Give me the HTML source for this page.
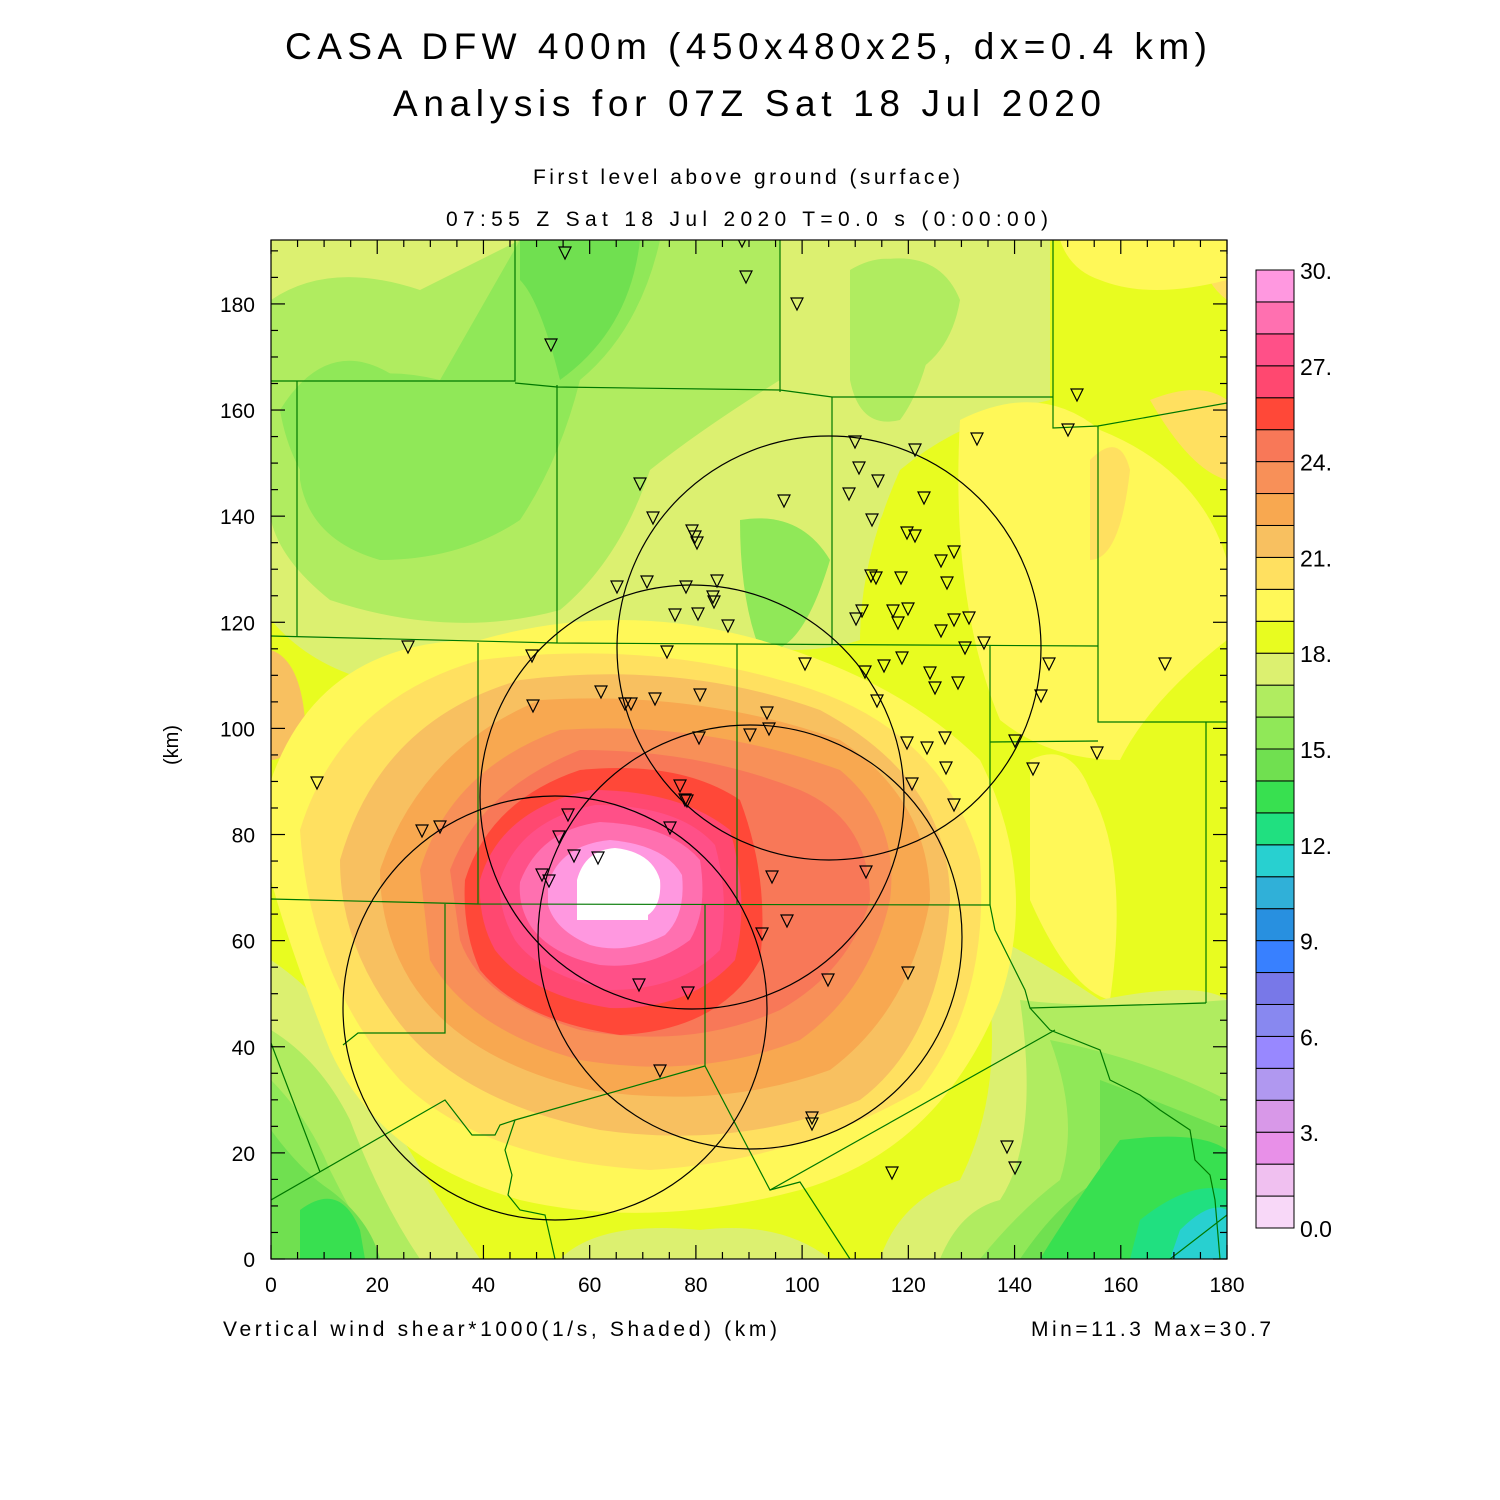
<!DOCTYPE html>
<html><head><meta charset="utf-8"><style>
html,body{margin:0;padding:0;background:#fff;}
svg{display:block;font-family:"Liberation Sans",sans-serif;}
</style></head><body>
<svg id="s" width="1500" height="1500" viewBox="0 0 1500 1500" xmlns="http://www.w3.org/2000/svg">
<defs><clipPath id="c"><rect x="271" y="240" width="956" height="1019"/></clipPath></defs>
<text x="285" y="59" font-size="37" textLength="922" lengthAdjust="spacing" fill="#000">CASA DFW 400m (450x480x25, dx=0.4 km)</text>
<text x="393" y="116" font-size="37" textLength="708" lengthAdjust="spacing" fill="#000">Analysis for 07Z Sat 18 Jul 2020</text>
<text x="533" y="184" font-size="21" textLength="427" lengthAdjust="spacing">First level above ground (surface)</text>
<text x="446" y="226" font-size="21" textLength="602" lengthAdjust="spacing">07:55 Z Sat 18 Jul 2020    T=0.0 s (0:00:00)</text>
<text x="223" y="1336" font-size="21" textLength="554" lengthAdjust="spacing">Vertical wind shear*1000(1/s, Shaded)  (km)</text>
<text x="1031" y="1336" font-size="21" textLength="240" lengthAdjust="spacing">Min=11.3 Max=30.7</text>
<text transform="translate(178,745) rotate(-90)" font-size="20" text-anchor="middle">(km)</text>
<g clip-path="url(#c)">
<rect x="271" y="240" width="956" height="1019" fill="#e8fc20"/>
<!-- upper greens -->
<path d="M271,240 H1050 V400 Q960,420 900,470 Q860,560 860,640 Q800,660 700,640 Q600,700 450,690 Q330,690 271,620 Z" fill="#dcf070"/>
<path d="M271,300 Q330,260 420,290 L520,240 H780 V380 Q700,430 650,470 Q620,560 560,610 Q450,640 330,600 Q280,560 271,520 Z" fill="#b0ec60"/>
<path d="M300,400 Q360,360 440,380 L520,240 H660 Q640,330 580,380 Q560,460 520,520 Q460,560 380,560 Q310,540 300,480 Z" fill="#90e858"/>
<path d="M520,240 H640 Q630,330 560,380 Q540,300 520,280 Z" fill="#70e050"/>
<path d="M280,410 Q330,330 400,380 Q470,420 440,470 Q400,520 330,510 Q290,470 280,410Z" fill="#90e858"/>
<path d="M850,270 Q900,240 940,290 Q930,380 900,420 Q860,430 850,380 Z" fill="#b0ec60"/>
<path d="M740,520 Q800,510 830,560 Q800,660 760,650 Q740,600 740,520Z" fill="#90e858"/>
<path d="M880,260 Q940,250 960,300 Q950,360 900,380 Q870,330 880,260Z" fill="#b0ec60"/>
<!-- upper right yellows -->
<path d="M1050,240 H1227 V1000 H1100 Q1000,960 990,900 Q940,800 960,700 Q900,620 880,520 Q920,440 1050,400 Z" fill="#e8fc20"/>
<path d="M960,420 Q1040,380 1100,430 Q1200,470 1227,560 V640 Q1150,700 1120,760 Q1050,760 1000,720 Q950,600 960,420Z" fill="#fff858"/>
<path d="M1150,400 Q1200,380 1227,400 V480 Q1190,470 1150,400Z" fill="#ffe060"/>
<path d="M1090,460 Q1120,430 1130,470 Q1120,560 1090,560 Z" fill="#ffe060"/>
<path d="M1200,240 H1227 V300 Q1200,280 1200,240Z" fill="#ffe060"/>
<path d="M1030,760 Q1070,740 1090,790 Q1130,860 1110,1000 Q1070,990 1030,900 Z" fill="#fff858"/>
<path d="M1060,240 H1227 V280 Q1150,300 1100,280 Q1070,270 1060,240Z" fill="#fff858"/>
<!-- left side -->
<path d="M271,650 Q300,660 305,720 Q290,760 271,760Z" fill="#f8c060"/>
<!-- bottom-left greens -->
<path d="M271,960 Q330,1000 360,1060 Q410,1160 480,1259 H271 Z" fill="#dcf070"/>
<path d="M271,1030 Q320,1060 350,1120 Q380,1200 420,1259 H271Z" fill="#b0ec60"/>
<path d="M271,1080 Q310,1120 330,1170 Q360,1230 380,1259 H271Z" fill="#90e858"/>
<path d="M271,1130 Q300,1170 330,1190 Q370,1220 380,1259 H271Z" fill="#70e050"/>
<path d="M300,1210 Q340,1180 360,1230 L365,1259 H300Z" fill="#38e050"/>
<path d="M560,1259 Q600,1220 700,1230 Q780,1220 830,1259Z" fill="#dcf070"/>
<!-- bottom-right greens -->
<path d="M1000,940 Q1040,960 1100,1000 Q1200,980 1227,1000 V1259 H880 Q900,1200 960,1180 Q1000,1100 990,1000Z" fill="#dcf070"/>
<path d="M1020,1000 Q1100,1010 1227,1000 V1259 H940 Q960,1210 1000,1200 Q1040,1140 1020,1000Z" fill="#b0ec60"/>
<path d="M1050,1040 Q1150,1060 1227,1100 V1259 H980 Q1020,1210 1060,1180 Q1080,1120 1050,1040Z" fill="#90e858"/>
<path d="M1100,1080 Q1180,1110 1227,1130 V1259 H1020 Q1060,1200 1100,1180 Z" fill="#70e050"/>
<path d="M1120,1140 Q1200,1130 1227,1150 V1259 H1040 Q1070,1210 1120,1140Z" fill="#38e050"/>
<path d="M1140,1220 Q1190,1180 1227,1190 V1259 H1130Z" fill="#20e080"/>
<path d="M1180,1230 Q1210,1200 1227,1210 V1259 H1170Z" fill="#28d0d0"/>
<!-- hot spot -->
<path d="M271,780 Q320,640 480,640 Q620,600 760,640 Q900,680 980,760 Q1040,880 1000,1000 Q940,1150 800,1190 Q650,1230 520,1200 Q380,1160 330,1050 Q290,950 271,880Z" fill="#fff858"/>
<path d="M300,830 Q340,700 480,660 Q640,640 780,680 Q940,720 980,860 Q990,1000 920,1090 Q800,1160 650,1170 Q480,1160 400,1080 Q310,980 300,830Z" fill="#ffe060"/>
<path d="M340,860 Q380,720 520,680 Q680,660 820,710 Q950,780 950,900 Q940,1040 860,1100 Q740,1150 600,1130 Q450,1100 390,1010 Q340,940 340,860Z" fill="#f8c060"/>
<path d="M380,870 Q420,750 540,700 Q700,690 840,740 Q930,800 930,900 Q910,1010 830,1070 Q720,1110 590,1090 Q460,1060 410,980 Q380,930 380,870Z" fill="#f8a850"/>
<path d="M420,870 Q450,770 560,730 Q700,720 840,770 Q900,820 890,900 Q870,990 800,1040 Q700,1080 580,1060 Q470,1030 430,960Z" fill="#f89058"/>
<path d="M450,870 Q480,790 580,750 Q700,750 800,790 Q870,820 870,900 Q850,970 780,1010 Q690,1050 580,1030 Q480,1000 460,940Z" fill="#f87858"/>
<path d="M465,880 Q490,800 580,770 Q680,760 740,800 Q770,880 760,960 Q720,1030 620,1035 Q520,1020 480,970 Q462,930 465,880Z" fill="#ff4838"/>
<path d="M480,880 Q500,810 590,790 Q680,790 730,830 Q750,900 735,960 Q690,1010 610,1008 Q530,995 495,950 Q478,920 480,880Z" fill="#ff4870"/>
<path d="M500,880 Q520,820 595,805 Q680,805 715,845 Q730,900 720,950 Q680,990 610,990 Q540,975 515,940 Q498,910 500,880Z" fill="#ff5088"/>
<path d="M520,882 Q540,830 600,822 Q670,825 700,860 Q708,910 690,940 Q650,970 600,965 Q550,955 530,925 Q518,905 520,882Z" fill="#ff70b0"/>
<path d="M548,884 Q560,845 610,840 Q665,845 682,875 Q686,915 665,935 Q625,955 590,945 Q555,930 548,905Z" fill="#ff98e0"/>
<path d="M577,880 Q585,850 615,848 Q652,852 660,880 Q662,905 648,915 L648,920 H577 Z" fill="#fff"/>
<!-- county lines -->
<g fill="none" stroke="#007800" stroke-width="1.2">
<path d="M271,381 H515 V240 M515,383 L557,387 L780,390 L832,397 H1053 M780,240 V392 M1053,240 V428 L1098,426 L1227,403"/>
<path d="M297,381 V636 M557,385 V643 M271,636 L557,643 L1098,646 M832,397 V645"/>
<path d="M1098,426 V722 L1227,722 M1206,722 V1003 M478,643 V904 M737,644 V905 M990,646 V905 M990,742 L1098,741"/>
<path d="M271,899 L478,904 L990,905 L995,930 L1010,960 L1025,990 L1030,1008 L1206,1003"/>
<path d="M445,904 V1033 H358 L343,1045 M705,905 V1066"/>
<path d="M271,1043 L320,1172 M271,1200 L445,1100 L472,1135 L495,1135 L500,1125 L515,1120 L705,1066 L770,1190 L1055,1030"/>
<path d="M515,1120 L505,1150 L512,1175 L508,1195 L520,1210 L545,1215 L555,1259 M770,1190 L800,1182 L850,1259"/>
<path d="M1030,1008 L1050,1030 L1100,1050 L1110,1080 L1140,1095 L1160,1110 L1190,1130 L1195,1160 L1210,1175 L1215,1200 L1220,1259 M1170,1259 L1227,1215"/>
</g>
<g fill="none" stroke="#000" stroke-width="1.2">
<circle cx="829" cy="648" r="212"/>
<circle cx="692" cy="797" r="212"/>
<circle cx="750" cy="937" r="212"/>
<circle cx="555" cy="1008" r="212"/>
</g>
<g id="tri" fill="none" stroke="#000" stroke-width="1.2"></g>
</g>
<rect x="271" y="240" width="956" height="1019" fill="none" stroke="#000" stroke-width="1.2"/>
<g id="ticks" stroke="#000" stroke-width="1.2"></g>
<g id="lab" font-size="21" fill="#000"></g>
<g id="cb"></g>
</svg>
<script>
var NS="http://www.w3.org/2000/svg";
function el(p,t,a,txt){var e=document.createElementNS(NS,t);for(var k in a)e.setAttribute(k,a[k]);if(txt!=null)e.textContent=txt;document.getElementById(p).appendChild(e);return e;}
var T=[[742,241],[565,253],[746,277],[797,304],[551,345],[1077,395],[1068,430],[977,439],[855,442],[915,450],[859,468],[640,484],[878,481],[924,498],[849,494],[784,501],[653,518],[872,520],[692,531],[695,537],[697,543],[907,533],[915,536],[954,552],[941,561],[617,587],[647,582],[686,587],[717,581],[713,597],[714,602],[871,576],[876,578],[901,578],[947,583],[675,615],[698,614],[728,626],[862,611],[856,619],[893,611],[908,609],[898,623],[969,618],[954,620],[941,631],[965,648],[984,643],[408,647],[532,656],[667,652],[884,666],[902,658],[865,672],[805,664],[930,673],[935,688],[958,683],[1049,664],[1165,664],[877,701],[1041,696],[533,706],[601,692],[625,704],[631,704],[655,699],[700,695],[767,713],[769,729],[750,735],[699,738],[907,743],[927,748],[945,738],[1015,741],[1097,753],[946,768],[1033,769],[912,784],[954,805],[317,783],[680,786],[685,800],[687,801],[670,828],[568,815],[422,831],[440,827],[559,837],[574,856],[598,858],[542,875],[549,881],[866,872],[772,877],[787,921],[762,934],[908,973],[828,980],[639,985],[688,993],[660,1071],[812,1118],[812,1124],[1007,1147],[1015,1168],[892,1173]];
T.forEach(function(p){var x=p[0],y=p[1];el("tri","path",{d:"M"+(x-6)+","+(y-6)+" H"+(x+6)+" L"+x+","+(y+6)+" Z"});});
var x0=271,x1=1227,y0=1259,sx=956/180,sy=5.306;
for(var k=0;k<=180;k+=5){var x=x0+k*sx,L=(k%20==0)?14:7;
 el("ticks","line",{x1:x,y1:y0,x2:x,y2:y0-L});el("ticks","line",{x1:x,y1:240,x2:x,y2:240+L});}
for(var k=0;k<=190;k+=5){var y=y0-k*sy,L=(k%20==0)?14:7;if(y<240)break;
 el("ticks","line",{x1:x0,y1:y,x2:x0+L,y2:y});el("ticks","line",{x1:x1,y1:y,x2:x1-L,y2:y});}
for(var k=0;k<=180;k+=20){el("lab","text",{x:x0+k*sx,y:1292,"text-anchor":"middle"},String(k));
 el("lab","text",{x:255,y:y0-k*sy+8,"text-anchor":"end"},String(k));}
var C=["#f8d8f8","#f0c0f0","#e890e8","#d898e8","#b098f0","#9888ff","#8888f0","#7878e8","#3880ff","#2890e0","#30b0d8","#28d0d0","#20e080","#38e050","#70e050","#90e858","#b0ec60","#dcf070","#e8fc20","#fff858","#ffe060","#f8c060","#f8a850","#f89058","#f87858","#ff4838","#ff4870","#ff5088","#ff70b0","#ff98e0"];
var bh=958/30;
for(var i=0;i<30;i++){el("cb","rect",{x:1256,y:1228-(i+1)*bh,width:38,height:bh,fill:C[i],stroke:"#000","stroke-width":1});}
var L=["0.0","3.","6.","9.","12.","15.","18.","21.","24.","27.","30."];
for(var i=0;i<11;i++){el("cb","text",{x:1300,y:1228-i*3*bh+9,"font-size":"23",fill:"#000"},L[i]);}
</script>
</body></html>
